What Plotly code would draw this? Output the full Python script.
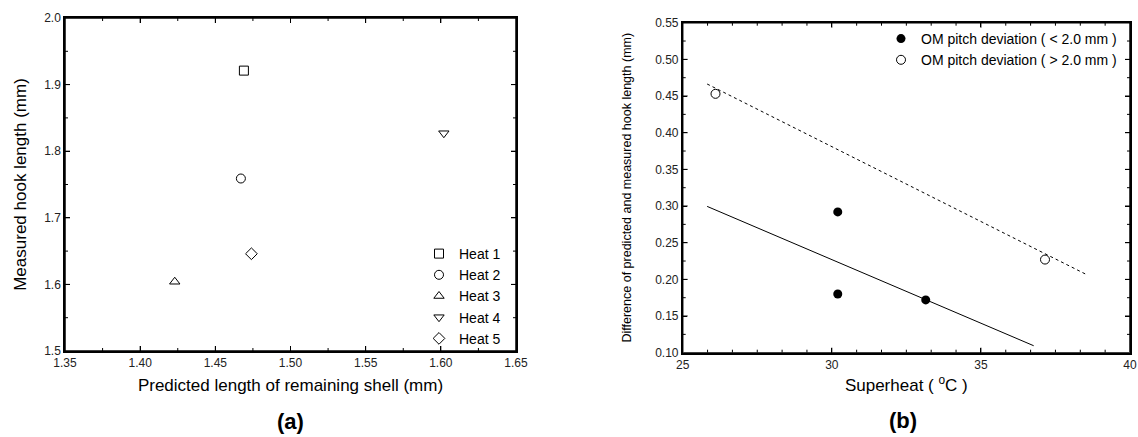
import numpy as np
import plotly.graph_objects as go

W, H = 1138, 437

# ---- Panel (a) data ----
heat_names = ["Heat 1", "Heat 2", "Heat 3", "Heat 4", "Heat 5"]
heat_symbols = ["square-open", "circle-open", "triangle-up-open", "triangle-down-open", "diamond-open"]
pred_len = [1.469, 1.467, 1.423, 1.602, 1.474]
meas_hook = [1.921, 1.759, 1.604, 1.827, 1.646]

# ---- Panel (b) data ----
lo_name = "OM pitch deviation ( < 2.0 mm )"
hi_name = "OM pitch deviation ( > 2.0 mm )"
lo_superheat = [30.2, 30.2, 33.15]
lo_diff = [0.292, 0.180, 0.172]
hi_superheat = [26.1, 37.15]
hi_diff = [0.453, 0.227]
lo_fit_x = [25.82, 36.77]
lo_fit_y = [0.2995, 0.1095]
hi_fit_x = [25.82, 38.52]
hi_fit_y = [0.4664, 0.207]

FONT = "Liberation Sans, Arial, sans-serif"

# axis settings (ranges, tick steps, pixel domains)
A = dict(xr=[1.35, 1.65], yr=[1.5, 2.0], xd=[65, 516], yd=[18, 351],
         xmaj=0.05, xsub=2, ymaj=0.1, ysub=2, xa="x", ya="y")
B = dict(xr=[25, 40], yr=[0.10, 0.55], xd=[682.7, 1130], yd=[22.7, 352.7],
         xmaj=5, xsub=6, ymaj=0.05, ysub=2, xa="x2", ya="y2")

fig = go.Figure()

for name, sym, x, y in zip(heat_names, heat_symbols, pred_len, meas_hook):
    fig.add_trace(go.Scatter(
        x=[x], y=[y], mode="markers", name=name,
        marker=dict(symbol=sym, size=9, color="black", line=dict(width=1, color="black")),
        xaxis="x", yaxis="y", legend="legend"))

fig.add_trace(go.Scatter(x=lo_fit_x, y=lo_fit_y, mode="lines", showlegend=False,
                         line=dict(color="black", width=1), xaxis="x2", yaxis="y2"))
fig.add_trace(go.Scatter(x=hi_fit_x, y=hi_fit_y, mode="lines", showlegend=False,
                         line=dict(color="black", width=1, dash="dot"), xaxis="x2", yaxis="y2"))
fig.add_trace(go.Scatter(x=lo_superheat, y=lo_diff, mode="markers", name=lo_name,
                         marker=dict(symbol="circle", size=9, color="black"),
                         xaxis="x2", yaxis="y2", legend="legend2"))
fig.add_trace(go.Scatter(x=hi_superheat, y=hi_diff, mode="markers", name=hi_name,
                         marker=dict(symbol="circle-open", size=9, color="black", line=dict(width=1)),
                         xaxis="x2", yaxis="y2", legend="legend2"))

shapes = []


def add_frame(p):
    """Box (one trace) and inward ticks (one shape each), from the axis ranges and steps."""
    x0, x1 = p["xr"]
    y0, y1 = p["yr"]
    sx = (x1 - x0) / (p["xd"][1] - p["xd"][0])
    sy = (y1 - y0) / (p["yd"][1] - p["yd"][0])
    fig.add_trace(go.Scatter(x=[x0, x1, x1, x0, x0], y=[y0, y0, y1, y1, y0], mode="lines",
                             line=dict(color="black", width=1.5), showlegend=False, hoverinfo="skip",
                             cliponaxis=False, xaxis=p["xa"], yaxis=p["ya"]))
    ln = dict(color="black", width=1)
    xstep = p["xmaj"] / p["xsub"]
    nx = int(round((x1 - x0) / xstep))
    for i in range(1, nx):
        v = x0 + i * xstep
        L = (5 if i % p["xsub"] == 0 else 3) * sy
        shapes.append(dict(type="line", xref=p["xa"], yref=p["ya"], x0=v, x1=v, y0=y0, y1=y0 + L, line=ln))
        shapes.append(dict(type="line", xref=p["xa"], yref=p["ya"], x0=v, x1=v, y0=y1, y1=y1 - L, line=ln))
    ystep = p["ymaj"] / p["ysub"]
    ny = int(round((y1 - y0) / ystep))
    for i in range(1, ny):
        v = y0 + i * ystep
        L = (5 if i % p["ysub"] == 0 else 3) * sx
        shapes.append(dict(type="line", xref=p["xa"], yref=p["ya"], x0=x0, x1=x0 + L, y0=v, y1=v, line=ln))
        shapes.append(dict(type="line", xref=p["xa"], yref=p["ya"], x0=x1, x1=x1 - L, y0=v, y1=v, line=ln))


add_frame(A)
add_frame(B)


def ax(**kw):
    base = dict(showline=True, linecolor="black", linewidth=1.5, mirror="ticks",
                ticks="inside", ticklen=5, tickwidth=1, tickcolor="black",
                showgrid=False, zeroline=False, automargin=False,
                tickfont=dict(family=FONT, size=12, color="#222"))
    base.update(kw)
    return base


xa = ax(domain=[A["xd"][0] / W, A["xd"][1] / W], range=A["xr"], dtick=A["xmaj"], tick0=1.35,
        tickformat=".2f", anchor="y",
        title=dict(text="Predicted length of remaining shell (mm)",
                   font=dict(family=FONT, size=17, color="black"), standoff=10))
ya = ax(domain=[1 - A["yd"][1] / H, 1 - A["yd"][0] / H], range=A["yr"], dtick=A["ymaj"], tick0=1.5,
        tickformat=".1f", anchor="x",
        title=dict(text="Measured hook length (mm)", font=dict(family=FONT, size=17, color="black"), standoff=13))
xb = ax(domain=[B["xd"][0] / W, B["xd"][1] / W], range=B["xr"], dtick=B["xmaj"], tick0=25,
        anchor="y2",
        title=dict(text="Superheat ( <sup>o</sup>C )", font=dict(family=FONT, size=17, color="black"), standoff=8))
yb = ax(domain=[1 - B["yd"][1] / H, 1 - B["yd"][0] / H], range=B["yr"], dtick=B["ymaj"], tick0=0.1,
        tickformat=".2f", anchor="x2",
        title=dict(text="Difference of predicted and measured hook length (mm)",
                   font=dict(family=FONT, size=12.5, color="black"), standoff=21))

fig.update_layout(
    width=W, height=H, margin=dict(l=0, r=0, t=0, b=0),
    plot_bgcolor="white",
    xaxis=xa, yaxis=ya, xaxis2=xb, yaxis2=yb,
    shapes=shapes,
    legend=dict(x=506 / W, xanchor="right", y=1 - 238 / H, yanchor="top",
                bgcolor="rgba(0,0,0,0)",
                font=dict(family=FONT, size=14, color="black"), tracegroupgap=0),
    legend2=dict(x=1122 / W, xanchor="right", y=1 - 23 / H, yanchor="top",
                 bgcolor="rgba(0,0,0,0)",
                 font=dict(family=FONT, size=14, color="black"), tracegroupgap=0),
    annotations=[
        dict(text="<b>(a)</b>", x=290.5 / W, y=1 - 421 / H, xref="paper", yref="paper",
             xanchor="center", yanchor="middle", showarrow=False, font=dict(family=FONT, size=22, color="black")),
        dict(text="<b>(b)</b>", x=903 / W, y=1 - 420 / H, xref="paper", yref="paper",
             xanchor="center", yanchor="middle", showarrow=False, font=dict(family=FONT, size=22, color="black")),
    ],
)

fig.write_html("out.html")
